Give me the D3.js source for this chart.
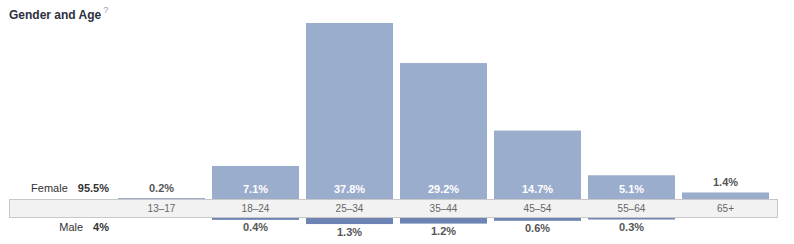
<!DOCTYPE html>
<meta charset="utf-8">
<style>
body { margin: 0; background: #fff; }
text { font-family: "Liberation Sans", Arial, sans-serif; }
.title { font-size: 12px; font-weight: bold; fill: #2e3040; }
.side { font-size: 11px; fill: #333; }
.age { font-size: 10px; fill: #666; text-anchor: middle; }
.val { font-size: 11px; font-weight: bold; text-anchor: middle; }
</style>
<svg width="794" height="244"></svg>
<script src="https://d3js.org/d3.v7.min.js"></script>
<script>
var svg = d3.select("svg");

// data
var ages = ["13-17", "18-24", "25-34", "35-44", "45-54", "55-64", "65+"];
var female = [0.2, 7.1, 37.8, 29.2, 14.7, 5.1, 1.4];
var male = [null, 0.4, 1.3, 1.2, 0.6, 0.3, null];
var femaleTotal = "95.5%";
var maleTotal = "4%";

var bandTop = 199, bandBottom = 217;

var x = d3.scaleBand()
    .domain(ages)
    .range([114.5, 772.5])
    .paddingInner(0.0745)
    .paddingOuter(0.0372);

var yF = d3.scaleLinear().domain([0, 37.8]).range([bandTop, 23]);
var yM = d3.scaleLinear().domain([0, 37.8]).range([bandBottom + 1, bandBottom + 1 + 176]);

// title
var title = svg.append("text").attr("class", "title").attr("x", 9).attr("y", 19).text("Gender and Age");
var tw = title.node().getComputedTextLength();
svg.append("text").attr("x", 9 + tw + 2).attr("y", 13)
    .style("font-size", "9px").style("fill", "#8b9dc3").text("?");

// female bars
svg.append("g").selectAll("rect")
    .data(female)
    .enter().append("rect")
    .attr("x", function(d, i) { return x(ages[i]); })
    .attr("width", x.bandwidth())
    .attr("y", function(d) { return Math.min(yF(d), bandTop - 1); })
    .attr("height", function(d) { return Math.max(bandTop - yF(d), 1); })
    .attr("fill", "#9badcd");

svg.append("g").selectAll("text")
    .data(female)
    .enter().append("text")
    .attr("class", "val")
    .attr("x", function(d, i) { return x(ages[i]) + x.bandwidth() / 2; })
    .attr("y", function(d) {
        var h = bandTop - yF(d);
        return h > 15 ? 192.5 : Math.min(yF(d), bandTop - 1) - 6;
    })
    .style("fill", function(d) { return bandTop - yF(d) > 15 ? "#fff" : "#555"; })
    .text(function(d) { return d + "%"; });

// band with age labels
svg.append("rect")
    .attr("x", 9.5).attr("y", bandTop + 0.5)
    .attr("width", 768).attr("height", bandBottom - bandTop)
    .attr("fill", "#f2f2f2").attr("stroke", "#c8c8c8");

svg.append("g").selectAll("text")
    .data(ages)
    .enter().append("text")
    .attr("class", "age")
    .attr("x", function(d) { return x(d) + x.bandwidth() / 2; })
    .attr("y", 212)
    .text(function(d) { return d.replace("-", "\u2013"); });

// male bars
var maleData = male.map(function(d, i) { return { age: ages[i], v: d }; })
    .filter(function(d) { return d.v !== null; });

svg.append("g").selectAll("rect")
    .data(maleData)
    .enter().append("rect")
    .attr("x", function(d) { return x(d.age); })
    .attr("width", x.bandwidth())
    .attr("y", bandBottom + 1)
    .attr("height", function(d) { return Math.max(yM(d.v) - bandBottom - 1, 1.5); })
    .attr("fill", "#6d84b4");

svg.append("g").selectAll("text")
    .data(maleData)
    .enter().append("text")
    .attr("class", "val")
    .attr("x", function(d) { return x(d.age) + x.bandwidth() / 2; })
    .attr("y", function(d) { return Math.max(yM(d.v), bandBottom + 2.5) + 11.5; })
    .style("fill", "#555")
    .text(function(d) { return d.v + "%"; });

// side totals
var f = svg.append("text").attr("class", "side").attr("x", 109).attr("y", 192).attr("text-anchor", "end");
f.append("tspan").text("Female");
f.append("tspan").attr("dx", 10).style("font-weight", "bold").text(femaleTotal);

var m = svg.append("text").attr("class", "side").attr("x", 109).attr("y", 231).attr("text-anchor", "end");
m.append("tspan").text("Male");
m.append("tspan").attr("dx", 10).style("font-weight", "bold").text(maleTotal);
</script>
